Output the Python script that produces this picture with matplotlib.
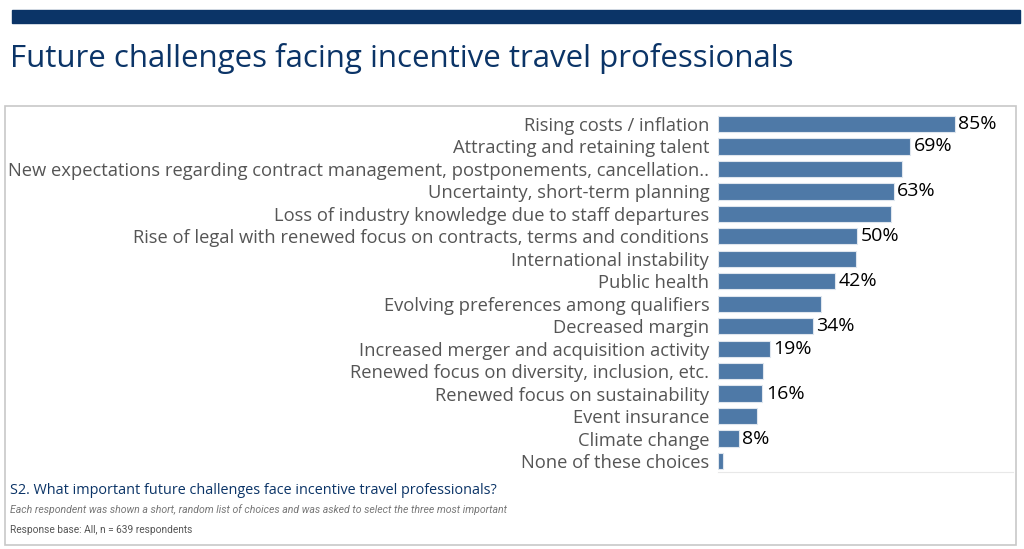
import matplotlib.pyplot as plt
from matplotlib.patches import Rectangle

# --- Data ---
CATEGORIES = [
    'Rising costs / inflation',
    'Attracting and retaining talent',
    'New expectations regarding contract management, postponements, cancellation..',
    'Uncertainty, short-term planning',
    'Loss of industry knowledge due to staff departures',
    'Rise of legal with renewed focus on contracts, terms and conditions',
    'International instability',
    'Public health',
    'Evolving preferences among qualifiers',
    'Decreased margin',
    'Increased merger and acquisition activity',
    'Renewed focus on diversity, inclusion, etc.',
    'Renewed focus on sustainability',
    'Event insurance',
    'Climate change',
    'None of these choices',
]
VALUES = [85, 69, 66, 63, 62, 50, 49.6, 42, 37, 34, 18.6, 16.2, 16, 14, 7.6, 1.8]
LABELS = ['85%', '69%', '', '63%', '', '50%', '', '42%', '', '34%', '19%', '', '16%', '', '8%', '']

TITLE = 'Future challenges facing incentive travel professionals'
NOTE_1 = 'S2. What important future challenges face incentive travel professionals?'
NOTE_2 = ('Each respondent was shown a short, random list of choices and was asked '
          'to select the three most important')
NOTE_3 = 'Response base: All, n = 639 respondents'

NAVY = '#0b3467'
BAR_COLOR = '#4e79a7'
FONT = 'Open Sans'
SMALL_FONT = 'Roboto'

W, H = 1024, 549


def px(x, y):
    """Pixel coords (from top-left) to figure fraction."""
    return x / W, 1 - y / H


def main():
    fig = plt.figure(figsize=(W / 100, H / 100), dpi=100)

    # top navy band
    fig.patches.append(Rectangle(px(12, 22.5), 1008 / W, 12.5 / H,
                                 transform=fig.transFigure, color=NAVY, zorder=0))
    # panel border
    fig.patches.append(Rectangle(px(4.5, 545), 1011.5 / W, 439 / H,
                                 transform=fig.transFigure, facecolor='none',
                                 edgecolor='#c8c8c8', lw=1.2, zorder=0))

    fx, fy = px(10, 58)
    fig.text(fx, fy, TITLE, fontsize=22.5, color=NAVY, family=FONT, va='center', ha='left')

    # bar axes
    left, top = px(717.7, 112.8)
    right, bottom = px(1013, 472.2)
    ax = fig.add_axes([left, bottom, right - left, top - bottom])
    ypos = range(len(CATEGORIES))
    ax.barh(ypos, VALUES, height=0.72, color=BAR_COLOR, edgecolor='#dfe6ee', lw=0.8)
    ax.set_xlim(0, 105.8)
    ax.set_ylim(len(CATEGORIES) - 0.5, -0.5)
    ax.set_yticks(list(ypos))
    ax.set_yticklabels(CATEGORIES, fontsize=13.2, color='#555555', family=FONT)
    ax.tick_params(axis='y', length=0, pad=6)
    ax.set_xticks([])
    for side in ['top', 'right', 'left']:
        ax.spines[side].set_visible(False)
    ax.spines['bottom'].set_color('#e8e8e8')

    for y, v, lab in zip(ypos, VALUES, LABELS):
        if lab:
            ax.text(v + 1.2, y, lab, fontsize=14, color='black', family=FONT,
                    va='center', ha='left')

    # footnotes
    fig.text(*px(10, 490), NOTE_1, fontsize=10.4, color=NAVY, family=FONT, va='center')
    fig.text(*px(10, 510), NOTE_2, fontsize=7.55, color='#777777', family=SMALL_FONT,
             style='italic', va='center')
    fig.text(*px(10, 530), NOTE_3, fontsize=7.3, color='#555555', family=SMALL_FONT, va='center')

    fig.savefig('out.png', dpi=100)


if __name__ == '__main__':
    main()
